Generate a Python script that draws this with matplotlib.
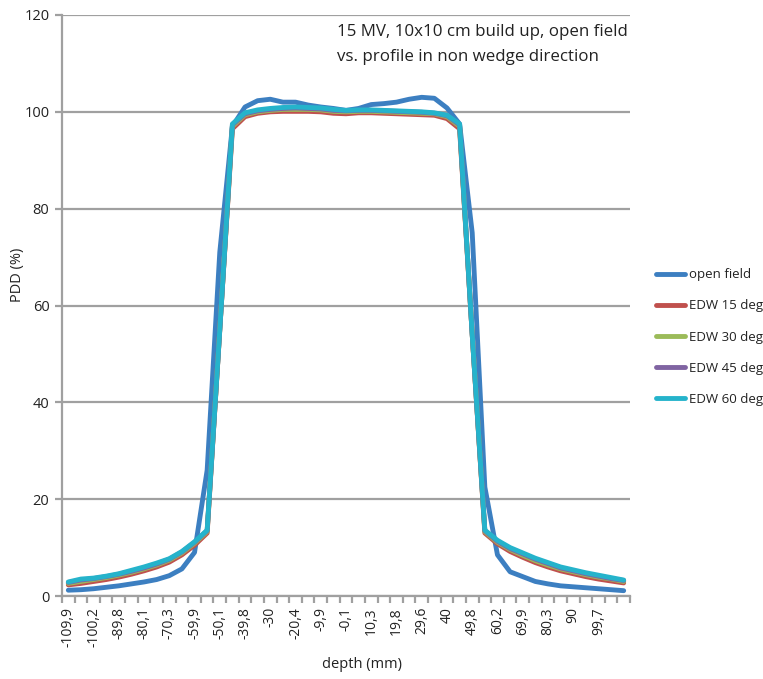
import matplotlib
matplotlib.use("Agg")
import matplotlib.pyplot as plt
import numpy as np

depth = [-109.9, -105.0, -100.2, -95.0, -89.8, -85.0, -80.1, -75.2, -70.3, -65.1,
         -59.9, -55.0, -50.1, -45.0, -39.8, -34.9, -30, -25.2, -20.4, -15.2,
         -9.9, -5.0, -0.1, 5.1, 10.3, 15.0, 19.8, 24.7, 29.6, 34.8,
         40, 44.9, 49.8, 55.0, 60.2, 65.0, 69.9, 75.1, 80.3, 85.2,
         90, 94.9, 99.7, 104.9, 110.0]

open_field = [1.2, 1.3, 1.5, 1.8, 2.1, 2.5, 2.9, 3.4, 4.2, 5.6,
              9.0, 26.0, 71.0, 97.0, 101.0, 102.3, 102.6, 102.0, 102.0, 101.4,
              101.0, 100.7, 100.3, 100.7, 101.5, 101.7, 102.0, 102.6, 103.0, 102.8,
              100.8, 97.5, 75.0, 22.5, 8.5, 5.0, 4.0, 3.0, 2.5, 2.1,
              1.9, 1.7, 1.5, 1.3, 1.1]

edw15 = [2.3, 2.6, 3.0, 3.4, 3.9, 4.5, 5.2, 6.0, 7.0, 8.5,
         10.5, 13.0, 55.0, 96.5, 99.0, 99.7, 100.0, 100.1, 100.1, 100.1,
         100.0, 99.7, 99.6, 99.8, 99.8, 99.7, 99.6, 99.5, 99.4, 99.3,
         98.6, 96.5, 54.0, 13.0, 10.8, 9.2, 8.0, 6.9, 6.0, 5.2,
         4.6, 4.0, 3.5, 3.1, 2.7]

edw30 = [2.6, 3.0, 3.4, 3.8, 4.3, 4.9, 5.6, 6.4, 7.4, 8.9,
         10.9, 13.3, 55.0, 97.0, 99.4, 100.0, 100.3, 100.5, 100.5, 100.5,
         100.4, 100.1, 100.0, 100.1, 100.1, 100.0, 99.9, 99.8, 99.7, 99.6,
         99.0, 97.0, 54.0, 13.3, 11.1, 9.6, 8.4, 7.3, 6.4, 5.6,
         5.0, 4.4, 3.9, 3.5, 3.0]

edw45 = [2.8, 3.3, 3.6, 4.0, 4.5, 5.1, 5.8, 6.6, 7.6, 9.1,
         11.1, 13.5, 55.0, 97.3, 99.6, 100.2, 100.5, 100.7, 100.8, 100.7,
         100.6, 100.3, 100.2, 100.3, 100.3, 100.2, 100.1, 100.0, 99.9, 99.7,
         99.2, 97.3, 54.0, 13.5, 11.3, 9.8, 8.7, 7.6, 6.7, 5.8,
         5.2, 4.6, 4.1, 3.6, 3.2]

edw60 = [2.9, 3.5, 3.7, 4.1, 4.6, 5.3, 6.0, 6.8, 7.7, 9.2,
         11.2, 13.6, 55.0, 97.5, 99.8, 100.4, 100.7, 100.9, 101.0, 100.9,
         100.8, 100.5, 100.3, 100.4, 100.4, 100.3, 100.2, 100.1, 100.0, 99.8,
         99.3, 97.5, 54.0, 13.6, 11.5, 10.0, 8.9, 7.8, 6.9, 6.0,
         5.4, 4.8, 4.3, 3.8, 3.3]

series_names = ["open field", "EDW 15 deg", "EDW 30 deg", "EDW 45 deg", "EDW 60 deg"]
series_colors = ["#3C7FC1", "#C0504D", "#9BBB59", "#8064A2", "#25B3CB"]

plt.rcParams['font.family'] = ['Open Sans', 'DejaVu Sans']

fig = plt.figure(figsize=(7.63, 6.79), dpi=100)
ax = fig.add_axes([62/763, 83/679, 568/763, 581/679])

x = np.arange(len(depth))
for vals, name, col in zip([open_field, edw15, edw30, edw45, edw60], series_names, series_colors):
    ax.plot(x, vals, color=col, lw=3.5, label=name, solid_joinstyle='round', solid_capstyle='round')

grid_col = "#A0A0A0"
ax.set_xlim(-0.5, len(depth) - 0.5)
ax.set_ylim(0, 120)
ax.set_yticks(np.arange(0, 121, 20))
ax.yaxis.grid(True, color=grid_col, lw=1.6)
ax.set_axisbelow(True)
for s in ["top", "right"]:
    ax.spines[s].set_visible(False)
for s in ["left", "bottom"]:
    ax.spines[s].set_color(grid_col)
    ax.spines[s].set_linewidth(1.6)

labels = [("%g" % d).replace(".", ",") for d in depth]
ax.set_xticks(x[::2][:22])
ax.set_xticklabels(labels[::2][:22], rotation=90, fontsize=10, color="#222222")
ax.set_xticks(np.arange(-0.5, len(depth), 1), minor=True)
ax.tick_params(axis="x", which="major", length=0, pad=8)
ax.tick_params(axis="x", which="minor", length=5, width=1.6, color=grid_col)
ax.tick_params(axis="y", length=5, width=1.6, color=grid_col, labelsize=10.5, labelcolor="#222222", pad=4)

fig.text(17/763, 1 - 275/679, "PDD (%)", rotation=90, ha="center", va="center", fontsize=10.5, color="#222222")
fig.text(362/763, 1 - 665/679, "depth (mm)", ha="center", va="center", fontsize=10.5, color="#222222")
fig.text(337/763, 1 - 32/679, "15 MV, 10x10 cm build up, open field", ha="left", va="center", fontsize=12.2, color="#222222")
fig.text(337/763, 1 - 57/679, "vs. profile in non wedge direction", ha="left", va="center", fontsize=12.2, color="#222222")

leg = fig.legend(loc="upper left", bbox_to_anchor=(651/763, 1 - 263/679), frameon=False,
                 fontsize=9.5, handlelength=2.2, handletextpad=0.3, labelspacing=1.38,
                 borderaxespad=0)
for t in leg.get_texts():
    t.set_color("#222222")

fig.savefig("out.png", dpi=100)
